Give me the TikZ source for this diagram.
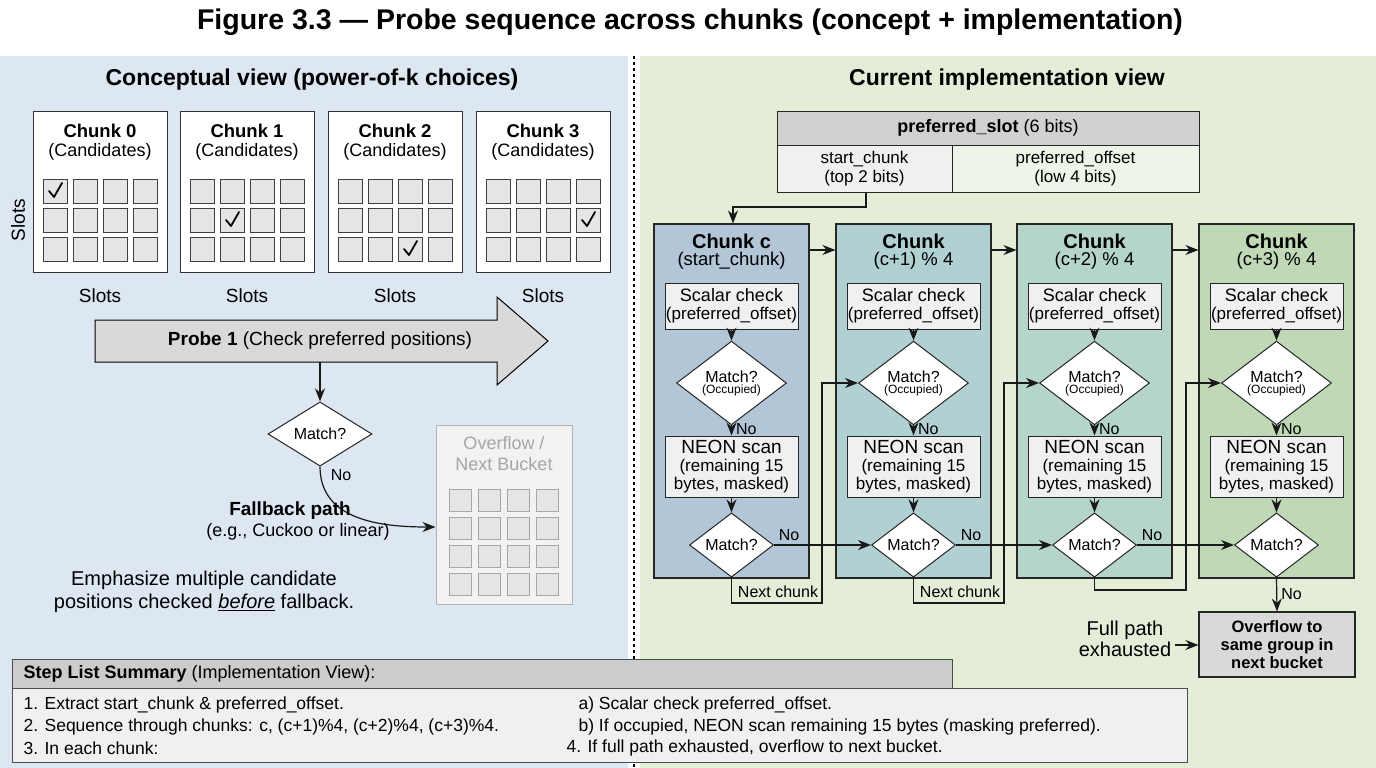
\documentclass[tikz,border=0pt]{standalone}
\usepackage{fontspec}
\setmainfont{Liberation Sans}
\usetikzlibrary{shapes.geometric,arrows.meta,calc}
\definecolor{lbg}{HTML}{DCE7F2}
\definecolor{rbg}{HTML}{E3EDD8}
\definecolor{c0}{HTML}{B2C6D8}
\definecolor{c1}{HTML}{B0D0D2}
\definecolor{c2}{HTML}{B4D5C8}
\definecolor{c3}{HTML}{BFD8B5}
\begin{document}
\begin{tikzpicture}[x=1pt,y=-1pt,
  fs/.style={font=\fontsize{#1}{#1}\selectfont},
  bfs/.style={font=\fontsize{#1}{#1}\selectfont\bfseries},
  chunkbox/.style={draw=black!80,line width=1pt,fill=white},
  cell/.style={draw=black!75,line width=0.8pt,fill=black!10,minimum size=24,inner sep=0},
  gcell/.style={draw=black!35,line width=0.8pt,fill=black!10,minimum size=22,inner sep=0},
  pbox/.style={draw=black!85,line width=1pt,fill=black!6,align=center,inner sep=0,fs=17},
  dia/.style={diamond,draw=black!85,line width=1pt,fill=white,inner sep=0,align=center},
  ln/.style={line width=1.2pt,draw=black!90},
  arr/.style={ln,-{Stealth[length=13pt,width=10pt]}},
  ch/.style={line width=1.8pt,line cap=round,line join=round}
]
\useasboundingbox (0,0) rectangle (1376,768);
\fill[white] (0,0) rectangle (1376,768);
\fill[lbg] (0,56) rectangle (628,768);
\fill[rbg] (640,56) rectangle (1376,768);
\draw[dashed,line width=1.2pt] (634,56) -- (634,768);
\node[bfs=28.5] (title) at (690,22) {Figure 3.3 — Probe sequence across chunks (concept + implementation)};
% ---------- left
\node[bfs=23] (lhead) at (312,80) {Conceptual view (power-of-k choices)};
\node[rotate=90,fs=19] (slotsv) at (18,220) {Slots};
\foreach \i/\x/\cr/\cc in {0/33/0/0,1/180/1/1,2/328/2/2,3/476/1/3}{
  \draw[chunkbox] (\x,111) rectangle (\x+134,272);
  \node[bfs=18.5] (ct\i) at (\x+67,131) {Chunk \i};
  \node[fs=18] (cc\i) at (\x+67,152) {(Candidates)};
  \foreach \r in {0,1,2}{\foreach \c in {0,1,2,3}{
    \node[cell] (cl\i-\r-\c) at (\x+22+\c*30,191+\r*29) {};}}
  \draw[ch] ($(cl\i-\cr-\cc)+(-6,0)$) -- ($(cl\i-\cr-\cc)+(-1,6)$) -- ($(cl\i-\cr-\cc)+(7,-8)$);
  \node[fs=19] (sl\i) at (\x+67,296) {Slots};
}
\draw[line width=1pt,fill=black!15] (95,320) -- (497,320) -- (497,297) -- (548,341) -- (497,385) -- (497,362) -- (95,362) -- cycle;
\node[fs=19] (probe) at (320,341) {\textbf{Probe 1} (Check preferred positions)};
\coordinate (probeb) at (320,362);
\node[dia,minimum width=104,minimum height=54,fs=16] (m0) at (320,434) {Match?};
\draw[arr] (probeb) -- (m0.north);
\node[draw=black!30,line width=1pt,fill=black!5,minimum width=136,minimum height=179,inner sep=0] (ovl) at (504,514.5) {};
\node[text=black!35,fs=18,align=center] (ovlt) at (504,454) {Overflow /\\[3pt]Next Bucket};
\foreach \r in {0,1,2,3}{\foreach \c in {0,1,2,3}{
  \node[gcell] (g\r\c) at (460+\c*29,500+\r*28) {};}}
\draw[arr] (m0.south) .. controls (320,520) and (380,527) .. (ovl.west|-0,527) coordinate (ovlin);
\node[fs=16] (no0) at (341,475) {No};
\node[bfs=19] (fb1) at (290,511) {Fallback path};
\node[fs=18] (fb2) at (298,532) {(e.g., Cuckoo or linear)};
\node[fs=20,align=center] (emph) at (204,592) {Emphasize multiple candidate\\[3pt]positions checked \underline{\textit{before}} fallback.};
% ---------- right
\node[bfs=23] (rhead) at (1007,80) {Current implementation view};
\node[draw=black!85,line width=1pt,fill=black!18,minimum width=422,minimum height=34,inner sep=0,fs=18] (ps) at (988,128) {\textbf{preferred\_slot} (6 bits)};
\node[draw=black!85,line width=1pt,fill=black!6,minimum width=175,minimum height=47,inner sep=0,align=center,fs=17] (sc) at (864.5,168.5) {start\_chunk\\[2pt](top 2 bits)};
\node[draw=black!85,line width=1pt,fill=rbg!60!white,minimum width=247,minimum height=47,inner sep=0,align=center,fs=17] (po) at (1075.5,168.5) {preferred\_offset\\[2pt](low 4 bits)};
\foreach \k/\x/\col/\t/\s in {0/654/c0/Chunk c/(start\_chunk),
  1/836/c1/Chunk/(c+1) \% 4,
  2/1017/c2/Chunk/(c+2) \% 4,
  3/1199/c3/Chunk/(c+3) \% 4}{
  \node[draw=black!85,line width=1.1pt,fill=\col,minimum width=155,minimum height=354,inner sep=0] (ck\k) at (\x+77.5,401) {};
  \node[bfs=20] (ckt\k) at (\x+77.5,241) {\t};
  \node[fs=18.5] (cks\k) at (\x+77.5,261) {\s};
  \node[pbox,minimum width=133,minimum height=46] (sv\k) at (\x+77.5,306) {{\fontsize{18}{18}\selectfont Scalar check}\\[1pt](preferred\_offset)};
  \node[dia,minimum width=110,minimum height=60] (d1\k) at (\x+77.5,383) {{\fontsize{16}{16}\selectfont Match?}\\[-1pt]{\fontsize{12}{12}\selectfont(Occupied)}};
  \node[pbox,minimum width=133,minimum height=61] (ne\k) at (\x+77.5,466.5) {{\fontsize{19}{19}\selectfont NEON scan}\\[1pt](remaining 15\\[1pt]bytes, masked)};
  \node[dia,minimum width=84,minimum height=46,fs=16] (d2\k) at (\x+77.5,545) {Match?};
  \draw[arr] (sv\k) -- (d1\k);
  \draw[arr] (d1\k) -- node[right,fs=16,inner sep=4pt,pos=0.35]{No} (ne\k);
  \draw[arr] (ne\k) -- (d2\k);
}
\draw[arr] (sc.south -| 866,0) -- (866,207) -- (733,207) -- (ck0.north -| 733,0);
\foreach \a/\b in {0/1,1/2,2/3}{
  \draw[arr] (ck\a.east |- 0,250) -- (ck\b.west |- 0,250);
  \draw[arr] (d2\a.east) -- (d2\b.west);
  \node[fs=16] (no2\a) at ($(d2\a.east)+(15,-10)$) {No};
}
\draw[arr] (d20.south) -- (731.5,603) -- (822,603) -- (822,383) -- (d11.west);
\node[fs=16] (nc0) at (778,592) {Next chunk};
\draw[arr] (d21.south) -- (913.5,603) -- (1004,603) -- (1004,383) -- (d12.west);
\node[fs=16] (nc1) at (960,592) {Next chunk};
\draw[arr] (d22.south) -- (1094.5,590) -- (1186,590) -- (1186,383) -- (d13.west);
\node[draw=black!85,line width=1.1pt,fill=black!15,minimum width=156,minimum height=65,inner sep=0,align=center,font=\fontsize{16.5}{18}\selectfont\bfseries] (ovr) at (1277,644.5) {Overflow to\\same group in\\next bucket};
\draw[arr] (d23.south) -- node[right,fs=16,inner sep=4pt]{No} (ovr.north);
\node[fs=20,align=center] (fp) at (1125,639) {Full path\\[1pt]exhausted};
\draw[arr] (fp.east |- 0,645) -- (ovr.west |- 0,645);
% ---------- bottom
\node[draw=black!70,line width=1pt,fill=black!6,minimum width=1175,minimum height=74,inner sep=0] (sb) at (599.5,725) {};
\node[draw=black!70,line width=1pt,fill=black!20,minimum width=940,minimum height=29,inner sep=0] (sh) at (482,673.5) {};
\node[anchor=west,fs=18] (sht) at (20,673.5) {\textbf{Step List Summary} (Implementation View):};
\node[anchor=west,fs=17.5] (s1) at (20,705) {1. Extract start\_chunk \& preferred\_offset.};
\node[anchor=west,fs=17.5] (s2) at (20,727) {2. Sequence through chunks: c, (c+1)\%4, (c+2)\%4, (c+3)\%4.};
\node[anchor=west,fs=17.5] (s3) at (20,748) {3. In each chunk:};
\node[anchor=west,fs=17.5] (sa) at (575,705) {a) Scalar check preferred\_offset.};
\node[anchor=west,fs=17.5] (sbb) at (575,727) {b) If occupied, NEON scan remaining 15 bytes (masking preferred).};
\node[anchor=west,fs=17.5] (s4) at (563,748) {4. If full path exhausted, overflow to next bucket.};
\end{tikzpicture}
\end{document}
